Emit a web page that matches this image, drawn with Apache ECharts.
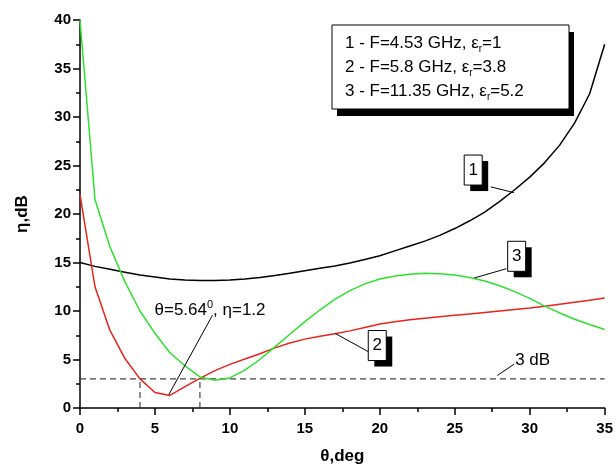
<!DOCTYPE html>
<html><head><meta charset="utf-8">
<script src="https://cdn.jsdelivr.net/npm/echarts@6/dist/echarts.min.js"></script>
<style>html,body{margin:0;padding:0;background:#fff}#c{width:616px;height:470px}</style>
</head><body><div id="c"></div>
<script>
// θ in degrees (shared x values)
const thetaDeg = [0,1,2,3,4,5,6,7,8,9,10,11,12,13,14,15,16,17,18,19,20,21,22,23,24,25,26,27,28,29,30,31,32,33,34,35];
// curve 1: F=4.53 GHz, εr=1
const eta1 = [15.0,14.6,14.3,14.0,13.7,13.5,13.3,13.2,13.15,13.15,13.2,13.3,13.45,13.65,13.9,14.15,14.4,14.65,14.95,15.3,15.7,16.2,16.7,17.2,17.8,18.5,19.3,20.2,21.3,22.5,23.8,25.3,27.1,29.4,32.4,37.5];
// curve 2: F=5.8 GHz, εr=3.8
const eta2 = [22.0,12.5,8.0,5.1,3.0,1.6,1.3,2.2,3.05,3.85,4.5,5.05,5.6,6.2,6.7,7.1,7.4,7.65,7.95,8.3,8.65,8.9,9.1,9.25,9.4,9.55,9.7,9.85,10.0,10.15,10.3,10.5,10.7,10.9,11.1,11.35];
// curve 3: F=11.35 GHz, εr=5.2
const eta3 = [40.0,21.5,16.6,13.0,10.0,7.7,5.7,4.35,3.2,2.85,3.1,3.9,5.0,6.3,7.6,8.9,10.1,11.2,12.1,12.8,13.3,13.6,13.8,13.9,13.85,13.7,13.45,13.1,12.6,12.0,11.3,10.5,9.8,9.15,8.6,8.1];
const level3dB = 3;
const cutTheta = [4, 8];
const legendLines = ['1 - F=4.53 GHz, ε{sub|r}=1', '2 - F=5.8 GHz, ε{sub|r}=3.8', '3 - F=11.35 GHz, ε{sub|r}=5.2'];
const curveNames = ['1', '2', '3'];
const minLabel = '{a|θ=5.64}{sup|0}{a|, η=1.2}';
const dbLabel = '3 dB';

const FONT = '"Liberation Sans", Arial, sans-serif';
const pair = (ys) => thetaDeg.map((t, i) => [t, ys[i]]);

const chart = echarts.init(document.getElementById('c'), null, {renderer: 'canvas'});

const axisCommon = {
  type: 'value',
  axisLine: {show: true, onZero: false, lineStyle: {color: '#000', width: 1.5}},
  axisTick: {show: true, inside: false, length: 7, lineStyle: {color: '#000', width: 1.5}},
  minorTick: {show: true, splitNumber: 2, length: 4, lineStyle: {color: '#000', width: 1.5}},
  splitLine: {show: false},
  axisLabel: {color: '#000', fontWeight: 'bold', fontSize: 15, fontFamily: FONT},
  nameLocation: 'middle',
  nameTextStyle: {color: '#000', fontWeight: 'bold', fontSize: 17, fontFamily: FONT}
};

const arrows = [
  [[27.4, 22.8], [28.95, 22.2]],
  [[19.22, 5.82], [17.02, 7.69]],
  [[28.44, 14.36], [26.3, 13.4]],
  [[28.95, 4.51], [27.84, 3.35]],
  [[8.84, 9.57], [5.92, 1.36]]
];

const lineS = (name, ys, color) => ({
  type: 'line', name, data: pair(ys), showSymbol: false, symbol: 'none',
  lineStyle: {color, width: 1.5}, z: 3, animation: false, silent: true
});
const dashS = (data) => ({
  type: 'line', data, showSymbol: false, symbol: 'none',
  lineStyle: {color: '#444', width: 1.2, type: [6, 4]}, z: 2, animation: false, silent: true
});

chart.setOption({
  animation: false,
  backgroundColor: '#fff',
  grid: {left: 80, right: 8, top: 20, bottom: 60, containLabel: false},
  xAxis: Object.assign({}, axisCommon, {min: 0, max: 35, interval: 5, name: 'θ,deg', nameGap: 40,
    axisLabel: Object.assign({}, axisCommon.axisLabel, {margin: 13})}),
  yAxis: Object.assign({}, axisCommon, {min: 0, max: 40, interval: 5, name: 'η,dB', nameGap: 49,
    axisLabel: Object.assign({}, axisCommon.axisLabel, {margin: 9})}),
  series: [
    lineS(curveNames[0], eta1, '#000000'),
    lineS(curveNames[1], eta2, '#e8231d'),
    lineS(curveNames[2], eta3, '#2ee02e'),
    dashS([[0, level3dB], [35, level3dB]]),
    dashS([[cutTheta[0], 0], [cutTheta[0], level3dB]]),
    dashS([[cutTheta[1], 0], [cutTheta[1], level3dB]]),
    {
      type: 'line', data: [], silent: true, animation: false,
      markLine: {
        silent: true, animation: false,
        symbol: ['none', 'arrow'], symbolSize: [0, 8],
        label: {show: false},
        lineStyle: {color: '#000', width: 1, type: 'solid'},
        data: arrows.map(a => [{coord: a[0]}, {coord: a[1]}])
      }
    }
  ]
});

const px = (p) => chart.convertToPixel({gridIndex: 0}, p);

const boxes = [
  {text: '1', at: [26.23, 24.53]},
  {text: '2', at: [19.83, 6.44]},
  {text: '3', at: [29.13, 15.64]}
];
const graphics = [];
boxes.forEach(b => {
  const c = px(b.at);
  const w = 18, h = 30;
  graphics.push({type: 'rect', shape: {x: c[0] - w/2 + 6, y: c[1] - h/2 + 6, width: w, height: h}, style: {fill: '#000'}, z: 10});
  graphics.push({type: 'rect', shape: {x: c[0] - w/2, y: c[1] - h/2, width: w, height: h}, style: {fill: '#fff', stroke: '#000', lineWidth: 1}, z: 11});
  graphics.push({type: 'text', x: c[0], y: c[1], style: {text: b.text, fontSize: 17, fontFamily: FONT, fill: '#000', align: 'center', verticalAlign: 'middle'}, z: 12});
});

// legend box
graphics.push({type: 'rect', shape: {x: 337, y: 32, width: 237, height: 84}, style: {fill: '#000'}, z: 10});
graphics.push({type: 'rect', shape: {x: 332, y: 25, width: 237, height: 84}, style: {fill: '#fff', stroke: '#000', lineWidth: 1}, z: 11});
const rich = {
  a: {fontSize: 17, fontFamily: FONT, fill: '#000', lineHeight: 22},
  sub: {fontSize: 10, fontFamily: FONT, fill: '#000', lineHeight: 10, verticalAlign: 'bottom'}
};
legendLines.forEach((t, i) => {
  const s = t.split(/(\{sub\|r\})/).map(p => p === '{sub|r}' ? p : '{a|' + p + '}').join('');
  graphics.push({type: 'text', x: 345, y: 43 + i * 24.3, style: {text: s, rich, align: 'left', verticalAlign: 'middle'}, z: 12});
});

// min label
const ml = px([4.97, 10.08]);
graphics.push({type: 'text', x: ml[0], y: ml[1], style: {text: minLabel, align: 'left', verticalAlign: 'middle',
  rich: {
    a: {fontSize: 17, fontFamily: FONT, fill: '#000', lineHeight: 22},
    sup: {fontSize: 11, fontFamily: FONT, fill: '#000', lineHeight: 11, verticalAlign: 'top'}
  }}, z: 12});
// 3 dB label
const dl = px([29.03, 4.95]);
graphics.push({type: 'text', x: dl[0], y: dl[1], style: {text: dbLabel, fontSize: 17, fontFamily: FONT, fill: '#000', align: 'left', verticalAlign: 'middle'}, z: 12});

chart.setOption({graphic: graphics});
</script>
</body></html>
